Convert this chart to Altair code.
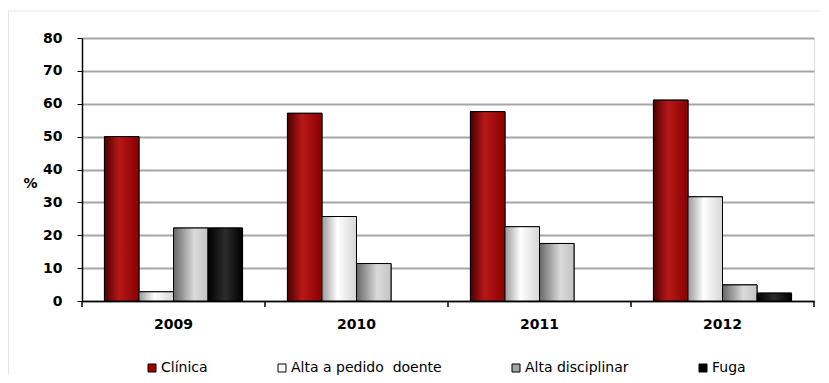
import altair as alt
import pandas as pd

anos = ["2009", "2010", "2011", "2012"]
series = ["Clínica", "Alta a pedido\u00a0 doente", "Alta disciplinar", "Fuga"]
clinica = [50.0, 57.1, 57.6, 61.1]
alta_pedido = [2.8, 25.7, 22.6, 31.7]
alta_disc = [22.2, 11.4, 17.5, 4.9]
fuga = [22.2, 0.0, 0.0, 2.4]

solid = ["#a00000", "#ffffff", "#a6a6a6", "#000000"]
grads = [
    [("#4a0000", 0), ("#b81818", 0.42), ("#8a0000", 1)],
    [("#9a9a9a", 0), ("#ffffff", 0.45), ("#d6d6d6", 1)],
    [("#666666", 0), ("#dadada", 0.6), ("#c4c4c4", 1)],
    [("#000000", 0), ("#2c2c2c", 0.5), ("#000000", 1)],
]

rows = []
for s, vals in zip(series, [clinica, alta_pedido, alta_disc, fuga]):
    for a, v in zip(anos, vals):
        rows.append({"ano": a, "serie": s, "valor": v})
df = pd.DataFrame(rows)
df = df[df["valor"] > 0]

FONT = "DejaVu Sans"
W, H = 732, 263

x = alt.X("ano:N", sort=anos, title=None,
          scale=alt.Scale(paddingInner=0, paddingOuter=0),
          axis=alt.Axis(labelAngle=0, ticks=False, domainColor="black", domainWidth=1.5,
                        labelFontWeight="bold", labelFontSize=14, labelColor="black",
                        labelPadding=16, labelFont=FONT))
xo = alt.XOffset("serie:N", sort=series,
                 scale=alt.Scale(domain=series, paddingInner=0, paddingOuter=0.65))
y = alt.Y("valor:Q", title="%",
          scale=alt.Scale(domain=[0, 80], nice=False),
          axis=alt.Axis(values=list(range(0, 81, 10)), gridColor="#a6a6a6", gridWidth=2,
                        domainColor="black", domainWidth=1.5, tickColor="black", tickSize=5,
                        labelFontWeight="bold", labelFontSize=14, labelColor="black",
                        labelFont=FONT, labelPadding=15,
                        titleAngle=0, titleX=-52, titleY=145, titleFontSize=14,
                        titleFontWeight="bold", titleFont=FONT, titleBaseline="middle",
                        titleAlign="center"))

base = alt.Chart(df).mark_bar(stroke="black", strokeWidth=1).encode(
    x=x, xOffset=xo, y=y,
    color=alt.Color("serie:N", sort=series,
                    scale=alt.Scale(domain=series, range=solid),
                    legend=alt.Legend(title=None, orient="none", direction="horizontal",
                                      legendX=63, legendY=323, columns=4,
                                      columnPadding=67, symbolType="square",
                                      symbolSize=64, symbolStrokeColor="black",
                                      symbolStrokeWidth=1, labelFontSize=14,
                                      labelFont=FONT, labelColor="black",
                                      labelOffset=2)),
)

layers = [base]
for s, g in zip(series, grads):
    layers.append(
        alt.Chart(df).transform_filter(alt.datum.serie == s).mark_bar(
            fill=alt.Gradient(gradient="linear", x1=0, x2=1, y1=0, y2=0,
                              stops=[alt.GradientStop(color=c, offset=o) for c, o in g]),
            stroke="black", strokeWidth=1,
        ).encode(x=x, xOffset=xo, y=y)
    )

ticks = alt.Chart(pd.DataFrame({"ano": anos})).mark_rule(color="black", strokeWidth=1.5).encode(
    x=alt.X("ano:N", sort=anos, bandPosition=0),
    y=alt.value(H), y2=alt.value(H + 6),
)
end_tick = alt.Chart(pd.DataFrame({"ano": ["2012"]})).mark_rule(color="black", strokeWidth=1.5).encode(
    x=alt.X("ano:N", sort=anos, bandPosition=1),
    y=alt.value(H), y2=alt.value(H + 6),
)
frame_top = alt.Chart(pd.DataFrame({"k": [0]})).mark_rule(color="#e6e6e6", strokeWidth=1).encode(
    x=alt.value(-74), x2=alt.value(W + 7), y=alt.value(-27)
)
frame_left = alt.Chart(pd.DataFrame({"k": [0]})).mark_rule(color="#e6e6e6", strokeWidth=1).encode(
    x=alt.value(-73.5), y=alt.value(-27), y2=alt.value(H + 74)
)
layers += [ticks, end_tick, frame_top, frame_left]

chart = alt.layer(*layers).properties(
    width=W, height=H,
    autosize=alt.AutoSizeParams(type="none"),
    padding={"left": 74, "top": 30, "right": 7, "bottom": 74},
).configure_view(stroke="#a6a6a6", strokeWidth=2).configure(background="white")

chart.save("out.html", embed_options={"renderer": "svg", "actions": False})
